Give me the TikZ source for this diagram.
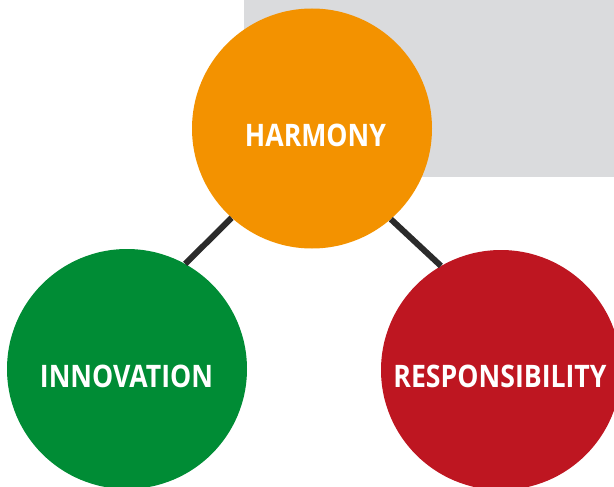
\documentclass[tikz,border=0pt]{standalone}
\usepackage{fontspec}
\setmainfont{Open Sans}[FakeStretch=0.86]
\definecolor{harm}{HTML}{F39200}
\definecolor{innov}{HTML}{008C35}
\definecolor{resp}{HTML}{BE1621}
\definecolor{panel}{HTML}{DADBDD}
\definecolor{linkc}{HTML}{2B2B2B}
\tikzset{
  ball/.style={circle, minimum size=240pt, inner sep=0pt, draw=none},
  lbl/.style={text=white, font=\bfseries\fontsize{31}{31}\selectfont, inner sep=0pt},
  link/.style={draw=linkc, line width=6pt}
}
\begin{document}
\begin{tikzpicture}[x=1pt,y=-1pt]
\useasboundingbox (0,0) rectangle (614,487);
\fill[panel] (244,0) rectangle (614,177);
\node[ball, fill=harm] (harmony) at (312,128.5) {};
\node[ball, fill=innov] (innovation) at (127,369) {};
\node[ball, fill=resp] (responsibility) at (501,370) {};
\draw[link] (harmony.228) -- (innovation.61);
\draw[link] (harmony.311) -- (responsibility.120);
\node[lbl] (tharmony) at (315.5,135.5) {HARMONY};
\node[lbl] (tinnovation) at (126.5,376) {INNOVATION};
\node[lbl] (tresponsibility) at (500,376) {RESPONSIBILITY};
\end{tikzpicture}
\end{document}
